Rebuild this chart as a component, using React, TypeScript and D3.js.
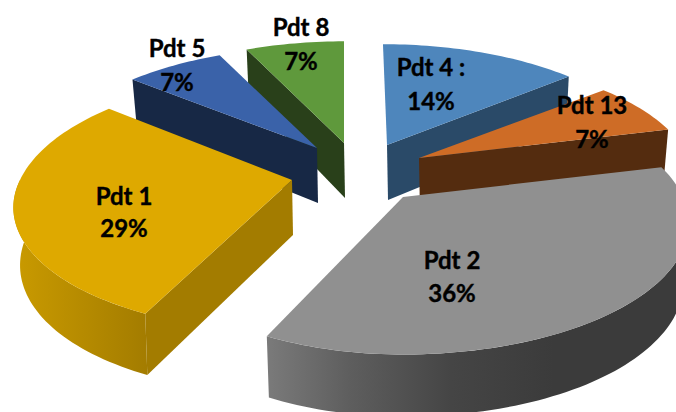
import React from "react";
import * as d3 from "d3";

const categories = ["Pdt 4 :", "Pdt 13", "Pdt 2", "Pdt 1", "Pdt 5", "Pdt 8"];
const values = [14, 7, 36, 29, 7, 7];
const percentLabels = ["14%", "7%", "36%", "29%", "7%", "7%"];
const topColors = ["#4E86BC", "#CE6C26", "#909090", "#DEA900", "#3A62A9", "#5F993C"];
const wallColors = ["#2A4A68", "#542C0F", "#555555", "#A37C00", "#172845", "#29401A"];

// layout, one entry per slice: exploded apex, radii around the apex, lean
const apexes: [number, number][] = [[387, 145], [419, 158], [403, 197], [292, 180], [317, 148], [344, 143]];
const radiiLeft = [270, 270, 262, 272, 270, 270];
const radiiRight = [270, 270, 280, 270, 270, 270];
const radiiBack = [121, 120, 126, 126, 121, 122];
const radiiFront = [126, 126, 126, 121, 126, 126];
const leans = [0.04, 0, 0, -0.04, 0, 0];
const labelPositions: [number, number][] = [[431, 66], [592, 104], [452, 259], [124, 195], [177, 47], [301, 26]];
const labelGaps = [34, 34, 33, 32, 34, 34];
const paintOrder = [5, 4, 0, 1, 3, 2];

const W = 676;
const H = 412;
const PERSPECTIVE = 0.2;
const DEPTH = 55;

const arcs = d3.pie<number>().sort(null).startAngle(0).endAngle(2 * Math.PI)(values);

function top(i: number, a: number, r = 1): [number, number] {
  const u = Math.sin(a) * r;
  const v = Math.cos(a) * r;
  const d = 1 + PERSPECTIVE * v;
  const dy = (-(v > 0 ? radiiBack[i] : radiiFront[i]) * v) / d;
  const rx = u < 0 ? radiiLeft[i] : radiiRight[i];
  return [apexes[i][0] + (rx * u) / d + leans[i] * dy, apexes[i][1] + dy];
}

function bottom(i: number, a: number, r = 1): [number, number] {
  const [x, y] = top(i, a, r);
  const u = Math.sin(a) * r;
  const v = Math.cos(a) * r;
  return [x + 1 - u * Math.abs(u) * 6, y + DEPTH - 7 * v];
}

const line = d3.line();

function sample(a0: number, a1: number): number[] {
  const n = Math.max(2, Math.ceil(Math.abs(a1 - a0) * 40));
  const s = d3.scaleLinear().domain([0, n]).range([a0, a1]);
  return d3.range(n + 1).map((k) => s(k));
}

function topPath(i: number): string {
  const { startAngle, endAngle } = arcs[i];
  const pts = [top(i, 0, 0), ...sample(startAngle, endAngle).map((a) => top(i, a))];
  return line(pts) + "Z";
}

function cutWall(i: number, a: number): string {
  const pts = [top(i, 0, 0), top(i, a), bottom(i, a), bottom(i, 0, 0)];
  return line(pts) + "Z";
}

function outerWall(i: number): string | null {
  const a0 = Math.max(arcs[i].startAngle, Math.PI / 2);
  const a1 = Math.min(arcs[i].endAngle, (3 * Math.PI) / 2);
  if (a1 <= a0) return null;
  const angles = sample(a0, a1);
  const pts = [...angles.map((a) => top(i, a)), ...angles.slice().reverse().map((a) => bottom(i, a))];
  return line(pts) + "Z";
}

export default function App() {
  return (
    <svg
      width={W}
      height={H}
      viewBox={`0 0 ${W} ${H}`}
      style={{ position: "absolute", left: 0, top: 0, display: "block", background: "#fff" }}
    >
      <defs>
        <linearGradient id="wall-2" gradientUnits="userSpaceOnUse" x1={268} x2={676} y1={0} y2={0}>
          <stop offset="0" stopColor="#7A7A7A" />
          <stop offset="0.2" stopColor="#5E5E5E" />
          <stop offset="0.45" stopColor="#454545" />
          <stop offset="0.7" stopColor="#3B3B3B" />
          <stop offset="1" stopColor="#3B3B3B" />
        </linearGradient>
        <linearGradient id="wall-3" gradientUnits="userSpaceOnUse" x1={15} x2={148} y1={0} y2={0}>
          <stop offset="0" stopColor="#C99A00" />
          <stop offset="1" stopColor="#A37C00" />
        </linearGradient>
      </defs>
      {paintOrder.map((i) => {
        const { startAngle, endAngle } = arcs[i];
        const outer = outerWall(i);
        return (
          <g key={categories[i]}>
            {Math.sin(startAngle) < -1e-6 && <path d={cutWall(i, startAngle)} fill={wallColors[i]} />}
            {Math.sin(endAngle) > 1e-6 && <path d={cutWall(i, endAngle)} fill={wallColors[i]} />}
            {outer && <path d={outer} fill={`url(#wall-${i})`} />}
            <path d={topPath(i)} fill={topColors[i]} />
          </g>
        );
      })}
      <g
        fontFamily="Lato, 'Open Sans', sans-serif"
        fontWeight={700}
        fontSize={24}
        fill="#000"
        stroke="#000"
        strokeWidth={0.4}
        textAnchor="middle"
        dominantBaseline="central"
      >
        {categories.map((c, i) => (
          <g key={c}>
            <text x={labelPositions[i][0]} y={labelPositions[i][1]}>{c}</text>
            <text x={labelPositions[i][0]} y={labelPositions[i][1] + labelGaps[i]}>{percentLabels[i]}</text>
          </g>
        ))}
      </g>
    </svg>
  );
}
